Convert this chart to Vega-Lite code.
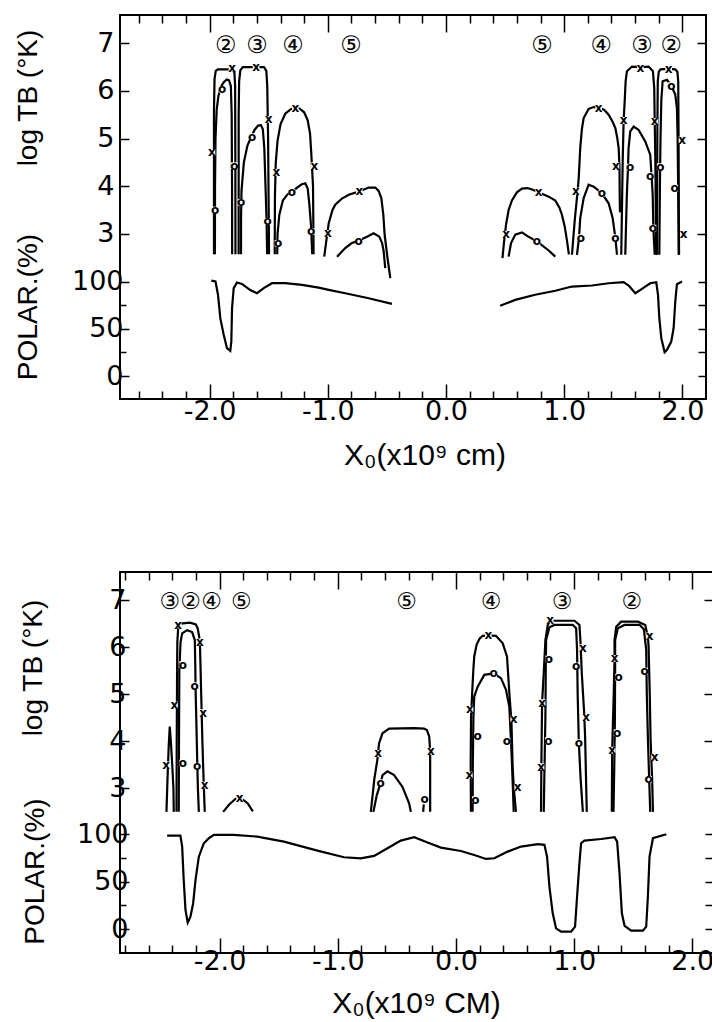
{
"$schema":"https://vega.github.io/schema/vega-lite/v6.json",
"background":"white",
"padding":{"left":13,"top":13,"right":0,"bottom":0},
"config":{"view":{"stroke":"black","strokeWidth":2},
 "axis":{"domain":false,"grid":false,"tickColor":"black","tickWidth":1.5,"labelColor":"black","labelFont":"DejaVu Sans","labelFontSize":27,"titleColor":"black","titleFont":"Liberation Sans","titleFontWeight":"normal","titleFontSize":28}},
"datasets":{
"c1":[
{"s":"a","i":1,"x":-1.963,"t":2.57},{"s":"a","i":2,"x":-1.963,"t":5.6},{"s":"a","i":3,"x":-1.958,"t":6.25},{"s":"a","i":4,"x":-1.948,"t":6.42},{"s":"a","i":5,"x":-1.93,"t":6.45},{"s":"a","i":6,"x":-1.83,"t":6.45},{"s":"a","i":7,"x":-1.805,"t":6.45},{"s":"a","i":8,"x":-1.79,"t":6.38},{"s":"a","i":9,"x":-1.784,"t":6.1},{"s":"a","i":10,"x":-1.782,"t":4.5},{"s":"a","i":11,"x":-1.781,"t":2.57},
{"s":"b","i":1,"x":-1.955,"t":2.57},{"s":"b","i":2,"x":-1.954,"t":4.0},{"s":"b","i":3,"x":-1.95,"t":5.0},{"s":"b","i":4,"x":-1.94,"t":5.6},{"s":"b","i":5,"x":-1.925,"t":5.9},{"s":"b","i":6,"x":-1.905,"t":6.08},{"s":"b","i":7,"x":-1.88,"t":6.18},{"s":"b","i":8,"x":-1.855,"t":6.24},{"s":"b","i":9,"x":-1.835,"t":6.22},{"s":"b","i":10,"x":-1.82,"t":6.1},{"s":"b","i":11,"x":-1.813,"t":5.5},{"s":"b","i":12,"x":-1.81,"t":4.0},{"s":"b","i":13,"x":-1.809,"t":2.57},
{"s":"c","i":1,"x":-1.754,"t":2.57},{"s":"c","i":2,"x":-1.754,"t":5.5},{"s":"c","i":3,"x":-1.75,"t":6.2},{"s":"c","i":4,"x":-1.74,"t":6.43},{"s":"c","i":5,"x":-1.72,"t":6.5},{"s":"c","i":6,"x":-1.54,"t":6.5},{"s":"c","i":7,"x":-1.52,"t":6.42},{"s":"c","i":8,"x":-1.512,"t":6.1},{"s":"c","i":9,"x":-1.505,"t":5.0},{"s":"c","i":10,"x":-1.5,"t":3.5},{"s":"c","i":11,"x":-1.497,"t":2.57},
{"s":"d","i":1,"x":-1.734,"t":2.57},{"s":"d","i":2,"x":-1.734,"t":3.3},{"s":"d","i":3,"x":-1.73,"t":3.9},{"s":"d","i":4,"x":-1.71,"t":4.5},{"s":"d","i":5,"x":-1.68,"t":4.85},{"s":"d","i":6,"x":-1.65,"t":5.02},{"s":"d","i":7,"x":-1.62,"t":5.18},{"s":"d","i":8,"x":-1.59,"t":5.27},{"s":"d","i":9,"x":-1.565,"t":5.28},{"s":"d","i":10,"x":-1.55,"t":5.2},{"s":"d","i":11,"x":-1.537,"t":4.8},{"s":"d","i":12,"x":-1.527,"t":4.0},{"s":"d","i":13,"x":-1.518,"t":3.3},{"s":"d","i":14,"x":-1.513,"t":2.57},
{"s":"e","i":1,"x":-1.449,"t":2.57},{"s":"e","i":2,"x":-1.447,"t":3.8},{"s":"e","i":3,"x":-1.44,"t":4.5},{"s":"e","i":4,"x":-1.425,"t":4.95},{"s":"e","i":5,"x":-1.4,"t":5.3},{"s":"e","i":6,"x":-1.36,"t":5.52},{"s":"e","i":7,"x":-1.31,"t":5.62},{"s":"e","i":8,"x":-1.275,"t":5.64},{"s":"e","i":9,"x":-1.24,"t":5.63},{"s":"e","i":10,"x":-1.2,"t":5.55},{"s":"e","i":11,"x":-1.17,"t":5.38},{"s":"e","i":12,"x":-1.15,"t":5.1},{"s":"e","i":13,"x":-1.14,"t":4.7},{"s":"e","i":14,"x":-1.125,"t":4.0},{"s":"e","i":15,"x":-1.12,"t":2.57},
{"s":"f","i":1,"x":-1.428,"t":2.57},{"s":"f","i":2,"x":-1.425,"t":3.0},{"s":"f","i":3,"x":-1.41,"t":3.4},{"s":"f","i":4,"x":-1.38,"t":3.7},{"s":"f","i":5,"x":-1.34,"t":3.83},{"s":"f","i":6,"x":-1.3,"t":3.88},{"s":"f","i":7,"x":-1.26,"t":3.97},{"s":"f","i":8,"x":-1.22,"t":4.04},{"s":"f","i":9,"x":-1.19,"t":4.06},{"s":"f","i":10,"x":-1.17,"t":3.95},{"s":"f","i":11,"x":-1.155,"t":3.6},{"s":"f","i":12,"x":-1.14,"t":3.1},{"s":"f","i":13,"x":-1.132,"t":2.57},
{"s":"g","i":1,"x":-1.03,"t":2.52},{"s":"g","i":2,"x":-1.01,"t":2.9},{"s":"g","i":3,"x":-0.992,"t":3.22},{"s":"g","i":4,"x":-0.96,"t":3.5},{"s":"g","i":5,"x":-0.937,"t":3.61},{"s":"g","i":6,"x":-0.88,"t":3.74},{"s":"g","i":7,"x":-0.823,"t":3.82},{"s":"g","i":8,"x":-0.733,"t":3.89},{"s":"g","i":9,"x":-0.654,"t":3.97},{"s":"g","i":10,"x":-0.598,"t":3.97},{"s":"g","i":11,"x":-0.57,"t":3.9},{"s":"g","i":12,"x":-0.547,"t":3.75},{"s":"g","i":13,"x":-0.53,"t":3.4},{"s":"g","i":14,"x":-0.519,"t":2.98},{"s":"g","i":15,"x":-0.495,"t":2.5},{"s":"g","i":16,"x":-0.471,"t":2.07},
{"s":"h","i":1,"x":-0.922,"t":2.52},{"s":"h","i":2,"x":-0.852,"t":2.7},{"s":"h","i":3,"x":-0.8,"t":2.8},{"s":"h","i":4,"x":-0.739,"t":2.86},{"s":"h","i":5,"x":-0.668,"t":2.94},{"s":"h","i":6,"x":-0.612,"t":3.01},{"s":"h","i":7,"x":-0.564,"t":2.94},{"s":"h","i":8,"x":-0.54,"t":2.8},{"s":"h","i":9,"x":-0.527,"t":2.63},{"s":"h","i":10,"x":-0.514,"t":2.28},
{"s":"i","i":1,"x":0.478,"t":2.49},{"s":"i","i":2,"x":0.49,"t":2.8},{"s":"i","i":3,"x":0.508,"t":3.19},{"s":"i","i":4,"x":0.53,"t":3.5},{"s":"i","i":5,"x":0.558,"t":3.7},{"s":"i","i":6,"x":0.6,"t":3.87},{"s":"i","i":7,"x":0.643,"t":3.95},{"s":"i","i":8,"x":0.69,"t":3.96},{"s":"i","i":9,"x":0.728,"t":3.93},{"s":"i","i":10,"x":0.784,"t":3.87},{"s":"i","i":11,"x":0.869,"t":3.78},{"s":"i","i":12,"x":0.925,"t":3.7},{"s":"i","i":13,"x":0.96,"t":3.55},{"s":"i","i":14,"x":0.981,"t":3.4},{"s":"i","i":15,"x":1.005,"t":3.15},{"s":"i","i":16,"x":1.024,"t":2.85},{"s":"i","i":17,"x":1.04,"t":2.57},
{"s":"j","i":1,"x":0.53,"t":2.52},{"s":"j","i":2,"x":0.55,"t":2.8},{"s":"j","i":3,"x":0.586,"t":2.98},{"s":"j","i":4,"x":0.643,"t":3.03},{"s":"j","i":5,"x":0.69,"t":2.95},{"s":"j","i":6,"x":0.77,"t":2.84},{"s":"j","i":7,"x":0.869,"t":2.65},{"s":"j","i":8,"x":0.925,"t":2.52},
{"s":"k","i":1,"x":1.066,"t":2.56},{"s":"k","i":2,"x":1.09,"t":3.3},{"s":"k","i":3,"x":1.114,"t":3.9},{"s":"k","i":4,"x":1.123,"t":4.17},{"s":"k","i":5,"x":1.136,"t":4.8},{"s":"k","i":6,"x":1.15,"t":5.2},{"s":"k","i":7,"x":1.165,"t":5.43},{"s":"k","i":8,"x":1.207,"t":5.62},{"s":"k","i":9,"x":1.25,"t":5.66},{"s":"k","i":10,"x":1.292,"t":5.65},{"s":"k","i":11,"x":1.34,"t":5.6},{"s":"k","i":12,"x":1.376,"t":5.5},{"s":"k","i":13,"x":1.41,"t":5.35},{"s":"k","i":14,"x":1.433,"t":5.22},{"s":"k","i":15,"x":1.45,"t":5.0},{"s":"k","i":16,"x":1.461,"t":4.8},{"s":"k","i":17,"x":1.468,"t":4.4},{"s":"k","i":18,"x":1.47,"t":3.8},{"s":"k","i":19,"x":1.472,"t":3.45},
{"s":"l","i":1,"x":1.108,"t":2.56},{"s":"l","i":2,"x":1.125,"t":2.9},{"s":"l","i":3,"x":1.136,"t":3.33},{"s":"l","i":4,"x":1.165,"t":3.75},{"s":"l","i":5,"x":1.207,"t":4.03},{"s":"l","i":6,"x":1.25,"t":3.99},{"s":"l","i":7,"x":1.32,"t":3.85},{"s":"l","i":8,"x":1.376,"t":3.64},{"s":"l","i":9,"x":1.41,"t":3.33},{"s":"l","i":10,"x":1.433,"t":2.92},{"s":"l","i":11,"x":1.447,"t":2.56},
{"s":"m","i":1,"x":1.483,"t":2.56},{"s":"m","i":2,"x":1.495,"t":4.5},{"s":"m","i":3,"x":1.503,"t":5.38},{"s":"m","i":4,"x":1.512,"t":5.78},{"s":"m","i":5,"x":1.52,"t":6.2},{"s":"m","i":6,"x":1.531,"t":6.41},{"s":"m","i":7,"x":1.574,"t":6.51},{"s":"m","i":8,"x":1.644,"t":6.5},{"s":"m","i":9,"x":1.715,"t":6.51},{"s":"m","i":10,"x":1.751,"t":6.41},{"s":"m","i":11,"x":1.762,"t":6.06},{"s":"m","i":12,"x":1.766,"t":5.36},{"s":"m","i":13,"x":1.771,"t":4.66},{"s":"m","i":14,"x":1.775,"t":3.5},{"s":"m","i":15,"x":1.778,"t":2.56},
{"s":"n","i":1,"x":1.517,"t":2.56},{"s":"n","i":2,"x":1.53,"t":3.8},{"s":"n","i":3,"x":1.54,"t":4.4},{"s":"n","i":4,"x":1.545,"t":4.8},{"s":"n","i":5,"x":1.559,"t":5.15},{"s":"n","i":6,"x":1.588,"t":5.25},{"s":"n","i":7,"x":1.63,"t":5.18},{"s":"n","i":8,"x":1.686,"t":4.94},{"s":"n","i":9,"x":1.728,"t":4.66},{"s":"n","i":10,"x":1.74,"t":4.2},{"s":"n","i":11,"x":1.749,"t":3.82},{"s":"n","i":12,"x":1.755,"t":3.1},{"s":"n","i":13,"x":1.766,"t":2.56},
{"s":"o","i":1,"x":1.785,"t":2.56},{"s":"o","i":2,"x":1.788,"t":5.0},{"s":"o","i":3,"x":1.792,"t":6.2},{"s":"o","i":4,"x":1.8,"t":6.4},{"s":"o","i":5,"x":1.815,"t":6.45},{"s":"o","i":6,"x":1.884,"t":6.46},{"s":"o","i":7,"x":1.94,"t":6.45},{"s":"o","i":8,"x":1.958,"t":6.4},{"s":"o","i":9,"x":1.965,"t":6.2},{"s":"o","i":10,"x":1.968,"t":5.0},{"s":"o","i":11,"x":1.97,"t":3.5},{"s":"o","i":12,"x":1.972,"t":2.56},
{"s":"p","i":1,"x":1.805,"t":2.56},{"s":"p","i":2,"x":1.81,"t":4.0},{"s":"p","i":3,"x":1.815,"t":5.0},{"s":"p","i":4,"x":1.822,"t":5.8},{"s":"p","i":5,"x":1.833,"t":6.2},{"s":"p","i":6,"x":1.87,"t":6.23},{"s":"p","i":7,"x":1.906,"t":6.11},{"s":"p","i":8,"x":1.94,"t":5.92},{"s":"p","i":9,"x":1.954,"t":5.64},{"s":"p","i":10,"x":1.96,"t":5.0},{"s":"p","i":11,"x":1.963,"t":4.31},{"s":"p","i":12,"x":1.966,"t":3.5},{"s":"p","i":13,"x":1.969,"t":2.56}
],
"l1":[
{"m":"x","x":-1.98,"t":4.71},{"m":"o","x":-1.954,"t":3.5},{"m":"o","x":-1.895,"t":6.03},{"m":"x","x":-1.81,"t":6.48},{"m":"o","x":-1.79,"t":4.43},{"m":"o","x":-1.734,"t":3.66},{"m":"x","x":-1.607,"t":6.51},{"m":"o","x":-1.641,"t":5.04},{"m":"x","x":-1.5,"t":5.4},{"m":"o","x":-1.508,"t":3.26},{"m":"x","x":-1.436,"t":4.29},{"m":"x","x":-1.275,"t":5.64},{"m":"x","x":-1.114,"t":4.43},{"m":"o","x":-1.421,"t":2.8},{"m":"o","x":-1.303,"t":3.87},{"m":"o","x":-1.14,"t":3.05},{"m":"x","x":-1.0,"t":3.01},{"m":"x","x":-0.733,"t":3.89},{"m":"o","x":-0.739,"t":2.84},
{"m":"x","x":0.508,"t":2.99},{"m":"x","x":0.784,"t":3.87},{"m":"o","x":0.77,"t":2.84},{"m":"x","x":1.1,"t":3.9},{"m":"x","x":1.292,"t":5.65},{"m":"x","x":1.438,"t":4.43},{"m":"o","x":1.142,"t":2.92},{"m":"o","x":1.32,"t":3.85},{"m":"o","x":1.433,"t":2.92},{"m":"x","x":1.503,"t":5.38},{"m":"x","x":1.644,"t":6.49},{"m":"x","x":1.766,"t":5.36},{"m":"o","x":1.559,"t":4.4},{"m":"o","x":1.728,"t":4.22},{"m":"o","x":1.751,"t":3.12},{"m":"x","x":1.884,"t":6.46},{"m":"x","x":1.997,"t":4.97},{"m":"x","x":2.011,"t":2.99},{"m":"o","x":1.813,"t":4.41},{"m":"o","x":1.906,"t":6.11},{"m":"o","x":1.935,"t":3.96}
],
"n1":[{"n":"②","x":-1.864,"t":6.95},{"n":"③","x":-1.599,"t":6.95},{"n":"④","x":-1.294,"t":6.95},{"n":"⑤","x":-0.804,"t":6.95},{"n":"⑤","x":0.812,"t":6.95},{"n":"④","x":1.314,"t":6.95},{"n":"③","x":1.658,"t":6.95},{"n":"②","x":1.906,"t":6.95}],
"p1":[
{"s":"L","i":1,"x":-1.985,"p":101},{"s":"L","i":2,"x":-1.95,"p":100},{"s":"L","i":3,"x":-1.929,"p":86},{"s":"L","i":4,"x":-1.909,"p":61},{"s":"L","i":5,"x":-1.881,"p":44},{"s":"L","i":6,"x":-1.853,"p":29.5},{"s":"L","i":7,"x":-1.825,"p":26.7},{"s":"L","i":8,"x":-1.816,"p":36.5},{"s":"L","i":9,"x":-1.81,"p":72},{"s":"L","i":10,"x":-1.796,"p":93},{"s":"L","i":11,"x":-1.768,"p":99},{"s":"L","i":12,"x":-1.726,"p":97.5},{"s":"L","i":13,"x":-1.656,"p":91},{"s":"L","i":14,"x":-1.599,"p":87.6},{"s":"L","i":15,"x":-1.542,"p":93},{"s":"L","i":16,"x":-1.472,"p":98.2},{"s":"L","i":17,"x":-1.36,"p":98.2},{"s":"L","i":18,"x":-1.218,"p":96.5},{"s":"L","i":19,"x":-1.077,"p":93.5},{"s":"L","i":20,"x":-0.992,"p":91.2},{"s":"L","i":21,"x":-0.852,"p":87.6},{"s":"L","i":22,"x":-0.654,"p":82.3},{"s":"L","i":23,"x":-0.457,"p":76.4},
{"s":"R","i":1,"x":0.459,"p":74.3},{"s":"R","i":2,"x":0.586,"p":80.6},{"s":"R","i":3,"x":0.755,"p":86},{"s":"R","i":4,"x":0.925,"p":90.2},{"s":"R","i":5,"x":1.066,"p":94.7},{"s":"R","i":6,"x":1.235,"p":95.8},{"s":"R","i":7,"x":1.376,"p":98.2},{"s":"R","i":8,"x":1.503,"p":99.3},{"s":"R","i":9,"x":1.546,"p":95.8},{"s":"R","i":10,"x":1.602,"p":87.6},{"s":"R","i":11,"x":1.658,"p":92.3},{"s":"R","i":12,"x":1.728,"p":98.2},{"s":"R","i":13,"x":1.779,"p":99.3},{"s":"R","i":14,"x":1.794,"p":86},{"s":"R","i":15,"x":1.805,"p":61.2},{"s":"R","i":16,"x":1.822,"p":40},{"s":"R","i":17,"x":1.85,"p":25.2},{"s":"R","i":18,"x":1.87,"p":27.7},{"s":"R","i":19,"x":1.906,"p":36.5},{"s":"R","i":20,"x":1.926,"p":50.6},{"s":"R","i":21,"x":1.94,"p":78.8},{"s":"R","i":22,"x":1.954,"p":97.1},{"s":"R","i":23,"x":1.997,"p":100}
],
"c2":[
{"s":"a","i":1,"x":-2.449,"t":2.5},{"s":"a","i":2,"x":-2.44,"t":3.2},{"s":"a","i":3,"x":-2.43,"t":3.9},{"s":"a","i":4,"x":-2.421,"t":4.31},{"s":"a","i":5,"x":-2.412,"t":4.0},{"s":"a","i":6,"x":-2.4,"t":3.5},{"s":"a","i":7,"x":-2.39,"t":3.0},{"s":"a","i":8,"x":-2.387,"t":2.5},
{"s":"b","i":1,"x":-2.364,"t":2.5},{"s":"b","i":2,"x":-2.362,"t":4.0},{"s":"b","i":3,"x":-2.359,"t":5.5},{"s":"b","i":4,"x":-2.357,"t":6.1},{"s":"b","i":5,"x":-2.35,"t":6.4},{"s":"b","i":6,"x":-2.33,"t":6.5},{"s":"b","i":7,"x":-2.25,"t":6.52},{"s":"b","i":8,"x":-2.2,"t":6.48},{"s":"b","i":9,"x":-2.185,"t":6.4},{"s":"b","i":10,"x":-2.172,"t":6.22},{"s":"b","i":11,"x":-2.165,"t":6.0},{"s":"b","i":12,"x":-2.155,"t":5.0},{"s":"b","i":13,"x":-2.145,"t":4.0},{"s":"b","i":14,"x":-2.135,"t":3.2},{"s":"b","i":15,"x":-2.125,"t":2.5},
{"s":"c","i":1,"x":-2.345,"t":2.5},{"s":"c","i":2,"x":-2.343,"t":4.0},{"s":"c","i":3,"x":-2.34,"t":5.5},{"s":"c","i":4,"x":-2.33,"t":6.1},{"s":"c","i":5,"x":-2.316,"t":6.29},{"s":"c","i":6,"x":-2.274,"t":6.36},{"s":"c","i":7,"x":-2.232,"t":6.32},{"s":"c","i":8,"x":-2.209,"t":6.15},{"s":"c","i":9,"x":-2.205,"t":5.6},{"s":"c","i":10,"x":-2.203,"t":5.16},{"s":"c","i":11,"x":-2.195,"t":4.3},{"s":"c","i":12,"x":-2.19,"t":3.74},{"s":"c","i":13,"x":-2.183,"t":3.0},{"s":"c","i":14,"x":-2.175,"t":2.5},
{"s":"d","i":1,"x":-1.969,"t":2.5},{"s":"d","i":2,"x":-1.92,"t":2.65},{"s":"d","i":3,"x":-1.864,"t":2.78},{"s":"d","i":4,"x":-1.83,"t":2.79},{"s":"d","i":5,"x":-1.79,"t":2.74},{"s":"d","i":6,"x":-1.761,"t":2.68},{"s":"d","i":7,"x":-1.718,"t":2.51},
{"s":"e","i":1,"x":-0.72,"t":2.5},{"s":"e","i":2,"x":-0.69,"t":3.2},{"s":"e","i":3,"x":-0.665,"t":3.6},{"s":"e","i":4,"x":-0.65,"t":3.96},{"s":"e","i":5,"x":-0.621,"t":4.17},{"s":"e","i":6,"x":-0.565,"t":4.27},{"s":"e","i":7,"x":-0.353,"t":4.28},{"s":"e","i":8,"x":-0.27,"t":4.27},{"s":"e","i":9,"x":-0.246,"t":4.24},{"s":"e","i":10,"x":-0.226,"t":4.1},{"s":"e","i":11,"x":-0.218,"t":3.8},{"s":"e","i":12,"x":-0.218,"t":2.5},
{"s":"f","i":1,"x":-0.698,"t":2.5},{"s":"f","i":2,"x":-0.67,"t":2.85},{"s":"f","i":3,"x":-0.636,"t":3.12},{"s":"f","i":4,"x":-0.621,"t":3.28},{"s":"f","i":5,"x":-0.579,"t":3.36},{"s":"f","i":6,"x":-0.523,"t":3.28},{"s":"f","i":7,"x":-0.452,"t":3.03},{"s":"f","i":8,"x":-0.396,"t":2.68},{"s":"f","i":9,"x":-0.381,"t":2.5},
{"s":"g","i":1,"x":-0.272,"t":2.66},{"s":"g","i":2,"x":-0.277,"t":2.5},
{"s":"h","i":1,"x":0.127,"t":2.5},{"s":"h","i":2,"x":0.125,"t":3.5},{"s":"h","i":3,"x":0.128,"t":4.5},{"s":"h","i":4,"x":0.137,"t":5.0},{"s":"h","i":5,"x":0.147,"t":5.5},{"s":"h","i":6,"x":0.155,"t":5.8},{"s":"h","i":7,"x":0.175,"t":6.05},{"s":"h","i":8,"x":0.2,"t":6.18},{"s":"h","i":9,"x":0.226,"t":6.24},{"s":"h","i":10,"x":0.274,"t":6.25},{"s":"h","i":11,"x":0.339,"t":6.24},{"s":"h","i":12,"x":0.396,"t":6.08},{"s":"h","i":13,"x":0.432,"t":5.8},{"s":"h","i":14,"x":0.452,"t":5.02},{"s":"h","i":15,"x":0.47,"t":4.4},{"s":"h","i":16,"x":0.48,"t":3.45},{"s":"h","i":17,"x":0.49,"t":3.0},{"s":"h","i":18,"x":0.508,"t":2.5},
{"s":"i","i":1,"x":0.141,"t":2.5},{"s":"i","i":2,"x":0.143,"t":3.5},{"s":"i","i":3,"x":0.148,"t":4.5},{"s":"i","i":4,"x":0.155,"t":4.95},{"s":"i","i":5,"x":0.184,"t":5.16},{"s":"i","i":6,"x":0.24,"t":5.41},{"s":"i","i":7,"x":0.319,"t":5.44},{"s":"i","i":8,"x":0.381,"t":5.34},{"s":"i","i":9,"x":0.424,"t":5.09},{"s":"i","i":10,"x":0.452,"t":4.73},{"s":"i","i":11,"x":0.462,"t":4.2},{"s":"i","i":12,"x":0.472,"t":3.67},{"s":"i","i":13,"x":0.482,"t":3.0},{"s":"i","i":14,"x":0.489,"t":2.5},
{"s":"j","i":1,"x":0.72,"t":2.5},{"s":"j","i":2,"x":0.723,"t":3.5},{"s":"j","i":3,"x":0.729,"t":4.82},{"s":"j","i":4,"x":0.743,"t":5.44},{"s":"j","i":5,"x":0.757,"t":6.15},{"s":"j","i":6,"x":0.777,"t":6.47},{"s":"j","i":7,"x":0.797,"t":6.56},{"s":"j","i":8,"x":0.89,"t":6.56},{"s":"j","i":9,"x":1.003,"t":6.56},{"s":"j","i":10,"x":1.045,"t":6.47},{"s":"j","i":11,"x":1.053,"t":6.15},{"s":"j","i":12,"x":1.065,"t":5.44},{"s":"j","i":13,"x":1.085,"t":4.6},{"s":"j","i":14,"x":1.093,"t":4.1},{"s":"j","i":15,"x":1.1,"t":3.3},{"s":"j","i":16,"x":1.107,"t":2.5},
{"s":"k","i":1,"x":0.743,"t":2.5},{"s":"k","i":2,"x":0.75,"t":3.5},{"s":"k","i":3,"x":0.757,"t":4.5},{"s":"k","i":4,"x":0.76,"t":5.5},{"s":"k","i":5,"x":0.763,"t":6.15},{"s":"k","i":6,"x":0.791,"t":6.42},{"s":"k","i":7,"x":0.833,"t":6.47},{"s":"k","i":8,"x":0.989,"t":6.47},{"s":"k","i":9,"x":1.017,"t":6.4},{"s":"k","i":10,"x":1.025,"t":5.94},{"s":"k","i":11,"x":1.03,"t":5.0},{"s":"k","i":12,"x":1.04,"t":3.97},{"s":"k","i":13,"x":1.055,"t":3.2},{"s":"k","i":14,"x":1.074,"t":2.5},
{"s":"l","i":1,"x":1.319,"t":2.5},{"s":"l","i":2,"x":1.322,"t":3.81},{"s":"l","i":3,"x":1.335,"t":5.0},{"s":"l","i":4,"x":1.342,"t":5.76},{"s":"l","i":5,"x":1.342,"t":6.15},{"s":"l","i":6,"x":1.356,"t":6.43},{"s":"l","i":7,"x":1.398,"t":6.54},{"s":"l","i":8,"x":1.54,"t":6.54},{"s":"l","i":9,"x":1.602,"t":6.47},{"s":"l","i":10,"x":1.625,"t":6.2},{"s":"l","i":11,"x":1.63,"t":6.01},{"s":"l","i":12,"x":1.64,"t":5.0},{"s":"l","i":13,"x":1.647,"t":4.03},{"s":"l","i":14,"x":1.66,"t":3.2},{"s":"l","i":15,"x":1.667,"t":2.5},
{"s":"m","i":1,"x":1.333,"t":2.5},{"s":"m","i":2,"x":1.34,"t":3.5},{"s":"m","i":3,"x":1.345,"t":4.5},{"s":"m","i":4,"x":1.347,"t":5.5},{"s":"m","i":5,"x":1.347,"t":6.15},{"s":"m","i":6,"x":1.37,"t":6.4},{"s":"m","i":7,"x":1.427,"t":6.47},{"s":"m","i":8,"x":1.554,"t":6.47},{"s":"m","i":9,"x":1.59,"t":6.38},{"s":"m","i":10,"x":1.61,"t":5.94},{"s":"m","i":11,"x":1.615,"t":5.0},{"s":"m","i":12,"x":1.625,"t":4.0},{"s":"m","i":13,"x":1.635,"t":3.2},{"s":"m","i":14,"x":1.644,"t":2.5}
],
"l2":[
{"m":"x","x":-2.452,"t":3.5},{"m":"x","x":-2.35,"t":6.47},{"m":"x","x":-2.381,"t":4.77},{"m":"x","x":-2.167,"t":6.11},{"m":"x","x":-2.138,"t":4.61},{"m":"x","x":-2.127,"t":3.07},{"m":"o","x":-2.311,"t":5.63},{"m":"o","x":-2.311,"t":3.54},{"m":"o","x":-2.21,"t":5.18},{"m":"o","x":-2.19,"t":3.47},{"m":"x","x":-1.83,"t":2.79},
{"m":"x","x":-0.658,"t":3.74},{"m":"x","x":-0.212,"t":3.79},{"m":"o","x":-0.636,"t":3.12},{"m":"o","x":-0.265,"t":2.77},
{"m":"x","x":0.113,"t":3.28},{"m":"x","x":0.119,"t":4.68},{"m":"x","x":0.274,"t":6.25},{"m":"x","x":0.489,"t":4.47},{"m":"x","x":0.523,"t":3.02},{"m":"o","x":0.164,"t":2.76},{"m":"o","x":0.184,"t":4.11},{"m":"o","x":0.319,"t":5.44},{"m":"o","x":0.432,"t":4.0},
{"m":"x","x":0.72,"t":3.46},{"m":"x","x":0.729,"t":4.82},{"m":"x","x":0.797,"t":6.58},{"m":"x","x":1.074,"t":5.99},{"m":"x","x":1.102,"t":4.51},{"m":"o","x":0.782,"t":4.01},{"m":"o","x":0.786,"t":5.75},{"m":"o","x":1.017,"t":5.6},{"m":"o","x":1.04,"t":3.97},
{"m":"x","x":1.322,"t":3.81},{"m":"x","x":1.342,"t":5.76},{"m":"x","x":1.638,"t":6.24},{"m":"x","x":1.681,"t":3.66},{"m":"o","x":1.364,"t":4.18},{"m":"o","x":1.376,"t":5.36},{"m":"o","x":1.596,"t":5.49},{"m":"o","x":1.63,"t":3.19}
],
"n2":[{"n":"③","x":-2.421,"t":6.95},{"n":"②","x":-2.246,"t":6.95},{"n":"④","x":-2.068,"t":6.95},{"n":"⑤","x":-1.816,"t":6.95},{"n":"⑤","x":-0.418,"t":6.95},{"n":"④","x":0.297,"t":6.95},{"n":"③","x":0.898,"t":6.95},{"n":"②","x":1.489,"t":6.95}],
"p2":[
{"i":1,"x":-2.443,"p":98.5},{"i":2,"x":-2.331,"p":98.5},{"i":3,"x":-2.316,"p":87},{"i":4,"x":-2.303,"p":52},{"i":5,"x":-2.288,"p":20.3},{"i":6,"x":-2.269,"p":7},{"i":7,"x":-2.246,"p":13.3},{"i":8,"x":-2.223,"p":27.4},{"i":9,"x":-2.203,"p":52},{"i":10,"x":-2.175,"p":76.4},{"i":11,"x":-2.133,"p":90.5},{"i":12,"x":-2.09,"p":95.8},{"i":13,"x":-2.048,"p":99.3},{"i":14,"x":-1.879,"p":99.3},{"i":15,"x":-1.681,"p":97.5},{"i":16,"x":-1.455,"p":92.2},{"i":17,"x":-1.172,"p":82.7},{"i":18,"x":-0.947,"p":75.8},{"i":19,"x":-0.805,"p":74.7},{"i":20,"x":-0.692,"p":77.2},{"i":21,"x":-0.579,"p":85.3},{"i":22,"x":-0.466,"p":93.3},{"i":23,"x":-0.353,"p":96.8},{"i":24,"x":-0.24,"p":91.2},{"i":25,"x":-0.127,"p":85.9},{"i":26,"x":0.042,"p":82.4},{"i":27,"x":0.155,"p":78.2},{"i":28,"x":0.254,"p":74},{"i":29,"x":0.325,"p":74.7},{"i":30,"x":0.438,"p":81.7},{"i":31,"x":0.551,"p":87},{"i":32,"x":0.692,"p":89.5},{"i":33,"x":0.749,"p":88.8},{"i":34,"x":0.771,"p":76.4},{"i":35,"x":0.791,"p":44.8},{"i":36,"x":0.819,"p":16.8},{"i":37,"x":0.847,"p":1},{"i":38,"x":0.89,"p":-2.5},{"i":39,"x":0.975,"p":-2.5},{"i":40,"x":1.008,"p":2.7},{"i":41,"x":1.025,"p":34.3},{"i":42,"x":1.045,"p":69.5},{"i":43,"x":1.059,"p":90.5},{"i":44,"x":1.087,"p":93.3},{"i":45,"x":1.229,"p":95},{"i":46,"x":1.342,"p":96.8},{"i":47,"x":1.364,"p":92.2},{"i":48,"x":1.384,"p":59},{"i":49,"x":1.404,"p":16.8},{"i":50,"x":1.427,"p":3.5},{"i":51,"x":1.483,"p":-1.5},{"i":52,"x":1.582,"p":-1.5},{"i":53,"x":1.61,"p":2.7},{"i":54,"x":1.624,"p":34.3},{"i":55,"x":1.638,"p":76.4},{"i":56,"x":1.667,"p":95.8},{"i":57,"x":1.78,"p":100}
]
},
"spacing":98,
"vconcat":[
{
"width":586,"height":384,
"resolve":{"scale":{"y":"independent"},"axis":{"x":"independent","y":"independent"}},
"layer":[
{"data":{"name":"c1"},"mark":{"type":"line","stroke":"black","strokeWidth":2.2},
 "encoding":{
  "x":{"field":"x","type":"quantitative","scale":{"domain":[-2.758,2.2],"nice":false,"zero":false},
   "axis":{"orient":"bottom","values":[-2.6,-2.4,-2.2,-2,-1.8,-1.6,-1.4,-1.2,-1,-0.8,-0.6,-0.4,-0.2,0,0.2,0.4,0.6,0.8,1,1.2,1.4,1.6,1.8,2],
    "tickSize":{"condition":{"test":"abs(datum.value-round(datum.value))<0.001","value":-15},"value":-8},
    "labelExpr":"abs(datum.value-round(datum.value))<0.001 ? (datum.value<0 ? '-' : '') + format(abs(datum.value),'.1f') : ''",
    "labelPadding":14,
    "title":"X₀(x10⁹ cm)","titleFontSize":30,"titleX":304.5,"titleY":65.5,"titleBaseline":"alphabetic","titleAlign":"center","titleAnchor":null}},
  "y":{"field":"t","type":"quantitative","scale":{"domain":[-0.467,7.592],"nice":false,"zero":false},
   "axis":{"orient":"left","values":[3,4,5,6,7],"tickSize":-9,"labelPadding":15,"format":"d",
    "title":"log TB (°K)","titleX":-91.5,"titleY":82.5,"titleBaseline":"middle","titleAlign":"center","titleAngle":-90}},
  "detail":{"field":"s"},"order":{"field":"i"}}},
{"data":{"name":"l1"},"mark":{"type":"point","shape":"square","filled":true,"fill":"white","opacity":1,"size":45},
 "encoding":{
  "x":{"field":"x","type":"quantitative","scale":{"domain":[-2.758,2.2],"nice":false,"zero":false},
   "axis":{"orient":"top","values":[-2.6,-2.4,-2.2,-2,-1.8,-1.6,-1.4,-1.2,-1,-0.8,-0.6,-0.4,-0.2,0,0.2,0.4,0.6,0.8,1,1.2,1.4,1.6,1.8,2],
    "tickSize":{"condition":{"test":"abs(datum.value-round(datum.value))<0.001","value":-17},"value":-8},"labels":false,"title":null}},
  "y":{"field":"t","type":"quantitative","scale":{"domain":[-0.467,7.592],"nice":false,"zero":false},
   "axis":{"orient":"right","values":[3,4,5,6,7],"tickSize":-9,"labels":false,"title":null}}}},
{"data":{"name":"l1"},"mark":{"type":"text","font":"DejaVu Sans","fontSize":12,"fontWeight":"bold","color":"black"},
 "encoding":{
  "x":{"field":"x","type":"quantitative","scale":{"domain":[-2.758,2.2],"nice":false,"zero":false},"axis":null},
  "y":{"field":"t","type":"quantitative","scale":{"domain":[-0.467,7.592],"nice":false,"zero":false},"axis":null},
  "text":{"field":"m"}}},
{"data":{"name":"n1"},"mark":{"type":"text","font":"DejaVu Sans","fontSize":24,"color":"black"},
 "encoding":{
  "x":{"field":"x","type":"quantitative","scale":{"domain":[-2.758,2.2],"nice":false,"zero":false},"axis":null},
  "y":{"field":"t","type":"quantitative","scale":{"domain":[-0.467,7.592],"nice":false,"zero":false},"axis":null},
  "text":{"field":"n"}}},
{"data":{"name":"p1"},"mark":{"type":"line","stroke":"black","strokeWidth":2.2},
 "encoding":{
  "x":{"field":"x","type":"quantitative","scale":{"domain":[-2.758,2.2],"nice":false,"zero":false},"axis":null},
  "y":{"field":"p","type":"quantitative","scale":{"domain":[-24.3,382],"nice":false,"zero":false},
   "axis":{"orient":"left","values":[0,25,50,75,100],
    "tickSize":{"condition":{"test":"datum.value % 50 === 0","value":-9},"value":-6},
    "labelExpr":"datum.value % 50 === 0 ? datum.label : ''","labelPadding":6,
    "title":"POLAR.(%)","titleX":-91.5,"titleY":291.5,"titleBaseline":"middle","titleAlign":"center","titleAngle":-90}},
  "detail":{"field":"s"},"order":{"field":"i"}}},
{"data":{"name":"p1"},"mark":{"type":"line","opacity":0},
 "encoding":{
  "x":{"field":"x","type":"quantitative","scale":{"domain":[-2.758,2.2],"nice":false,"zero":false},"axis":null},
  "y":{"field":"p","type":"quantitative","scale":{"domain":[-24.3,382],"nice":false,"zero":false},
   "axis":{"orient":"right","values":[0,25,50,75,100],"tickSize":-8,"labels":false,"title":null}},
  "detail":{"field":"s"},"order":{"field":"i"}}}
]},
{
"width":593,"height":381,
"resolve":{"scale":{"y":"independent"},"axis":{"x":"independent","y":"independent"}},
"layer":[
{"data":{"name":"c2"},"mark":{"type":"line","stroke":"black","strokeWidth":2.2},
 "encoding":{
  "x":{"field":"x","type":"quantitative","scale":{"domain":[-2.842,2.175],"nice":false,"zero":false},
   "axis":{"orient":"bottom","values":[-2.8,-2.6,-2.4,-2.2,-2,-1.8,-1.6,-1.4,-1.2,-1,-0.8,-0.6,-0.4,-0.2,0,0.2,0.4,0.6,0.8,1,1.2,1.4,1.6,1.8,2],
    "tickSize":{"condition":{"test":"abs(datum.value-round(datum.value))<0.001","value":-15},"value":-8},
    "labelExpr":"abs(datum.value-round(datum.value))<0.001 ? (datum.value<0 ? '-' : '') + format(abs(datum.value),'.1f') : ''",
    "labelPadding":10.5,
    "title":"X₀(x10⁹ CM)","titleFontSize":30,"titleX":296,"titleY":59.7,"titleBaseline":"alphabetic","titleAlign":"center","titleAnchor":null}},
  "y":{"field":"t","type":"quantitative","scale":{"domain":[-0.498,7.595],"nice":false,"zero":false},
   "axis":{"orient":"left","values":[3,4,5,6,7],"tickSize":-9,"labelPadding":3,"format":"d",
    "title":"log TB (°K)","titleX":-86.5,"titleY":95.5,"titleBaseline":"middle","titleAlign":"center","titleAngle":-90}},
  "detail":{"field":"s"},"order":{"field":"i"}}},
{"data":{"name":"l2"},"mark":{"type":"point","shape":"square","filled":true,"fill":"white","opacity":1,"size":45},
 "encoding":{
  "x":{"field":"x","type":"quantitative","scale":{"domain":[-2.842,2.175],"nice":false,"zero":false},
   "axis":{"orient":"top","values":[-2.8,-2.6,-2.4,-2.2,-2,-1.8,-1.6,-1.4,-1.2,-1,-0.8,-0.6,-0.4,-0.2,0,0.2,0.4,0.6,0.8,1,1.2,1.4,1.6,1.8,2],
    "tickSize":{"condition":{"test":"abs(datum.value-round(datum.value))<0.001","value":-17},"value":-8},"labels":false,"title":null}},
  "y":{"field":"t","type":"quantitative","scale":{"domain":[-0.498,7.595],"nice":false,"zero":false},
   "axis":{"orient":"right","values":[3,4,5,6,7],"tickSize":-9,"labels":false,"title":null}}}},
{"data":{"name":"l2"},"mark":{"type":"text","font":"DejaVu Sans","fontSize":12,"fontWeight":"bold","color":"black"},
 "encoding":{
  "x":{"field":"x","type":"quantitative","scale":{"domain":[-2.842,2.175],"nice":false,"zero":false},"axis":null},
  "y":{"field":"t","type":"quantitative","scale":{"domain":[-0.498,7.595],"nice":false,"zero":false},"axis":null},
  "text":{"field":"m"}}},
{"data":{"name":"n2"},"mark":{"type":"text","font":"DejaVu Sans","fontSize":23,"color":"black"},
 "encoding":{
  "x":{"field":"x","type":"quantitative","scale":{"domain":[-2.842,2.175],"nice":false,"zero":false},"axis":null},
  "y":{"field":"t","type":"quantitative","scale":{"domain":[-0.498,7.595],"nice":false,"zero":false},"axis":null},
  "text":{"field":"n"}}},
{"data":{"name":"p2"},"mark":{"type":"line","stroke":"black","strokeWidth":2.2},
 "encoding":{
  "x":{"field":"x","type":"quantitative","scale":{"domain":[-2.842,2.175],"nice":false,"zero":false},"axis":null},
  "y":{"field":"p","type":"quantitative","scale":{"domain":[-25,376],"nice":false,"zero":false},
   "axis":{"orient":"left","values":[0,25,50,75,100],
    "tickSize":{"condition":{"test":"datum.value % 50 === 0","value":-9},"value":-6},
    "labelExpr":"datum.value % 50 === 0 ? datum.label : ''","labelPadding":1,
    "title":"POLAR.(%)","titleX":-85,"titleY":299,"titleBaseline":"middle","titleAlign":"center","titleAngle":-90}},
  "order":{"field":"i"}}},
{"data":{"name":"p2"},"mark":{"type":"line","opacity":0},
 "encoding":{
  "x":{"field":"x","type":"quantitative","scale":{"domain":[-2.842,2.175],"nice":false,"zero":false},"axis":null},
  "y":{"field":"p","type":"quantitative","scale":{"domain":[-25,376],"nice":false,"zero":false},
   "axis":{"orient":"right","values":[0,25,50,75,100],"tickSize":-8,"labels":false,"title":null}},
  "order":{"field":"i"}}}
]}
]
}
